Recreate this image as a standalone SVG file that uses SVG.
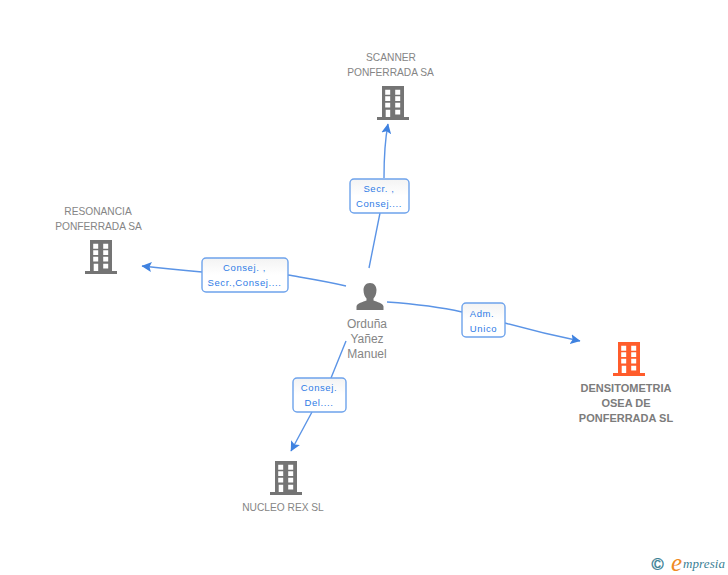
<svg xmlns="http://www.w3.org/2000/svg" width="728" height="575" viewBox="0 0 728 575">
<style>
.n{font:10.200px "Liberation Sans",Arial,sans-serif;fill:#858585;text-anchor:middle}
.b{font-weight:bold;font-size:11px;fill:#7c7c7c}
.p{font-size:12px}
.l{font:9.500px "Liberation Sans",Arial,sans-serif;fill:#2f7be6;text-anchor:middle;letter-spacing:.6px}
.c{fill:none;stroke:#5b94e6;stroke-width:1.4}
.r{fill:#fff;stroke:#6ea3ec;stroke-width:1.4}
</style>
<defs>
<linearGradient id="g" x1="0" y1="0" x2="0" y2="1"><stop offset="0" stop-color="#f3f3f3"/><stop offset=".5" stop-color="#fff"/></linearGradient>
<marker id="a" markerWidth="11" markerHeight="10" refX="9.5" refY="5" orient="auto" markerUnits="userSpaceOnUse"><path d="M0 0L10 5L0 10L2 5Z" fill="#3f82e0"/></marker>
<symbol id="t" width="32" height="35" overflow="visible"><path fill-rule="evenodd" fill="currentColor" d="M0 0H22V31H27V34H-5V31H0ZM3.200 3.700V8.700H8.200V3.700ZM13.200 3.700V8.700H18.200V3.700ZM3.200 10.200V15H8.200V10.200ZM13.200 10.200V15H18.200V10.200ZM3.200 16.800V21.500H8.200V16.800ZM13.200 16.800V21.500H18.200V16.800ZM3.700 23.700V31H8.200V23.700ZM13.200 23.700V28.500H18.200V23.700Z"/></symbol>
</defs>
<g id="connectors">
<path class="c" marker-end="url(#a)" d="M369 268L380 213M384 178C384 160 385 140 388 124"/>
<path class="c" marker-end="url(#a)" d="M346 286C325 281 305 278 288 275M202 272C180 270 160 268 142 266"/>
<path class="c" marker-end="url(#a)" d="M387 302C415 304 440 307 462 312M505 323C530 330 555 336 580 341"/>
<path class="c" marker-end="url(#a)" d="M346 341L331 378M312 412L291 451"/>
</g>
<g id="n-scanner" color="#747474"><use href="#t" x="382" y="86"/><text class="n" x="391" y="61">SCANNER</text><text class="n" x="390.500" y="76">PONFERRADA SA</text></g>
<g id="n-resonancia" color="#747474"><use href="#t" x="90" y="240"/><text class="n" x="98" y="215">RESONANCIA</text><text class="n" x="98.500" y="230">PONFERRADA SA</text></g>
<g id="n-nucleo" color="#747474"><use href="#t" x="275" y="461"/><text class="n" x="283" y="511">NUCLEO REX SL</text></g>
<g id="n-densitometria" color="#ff5c2b"><use href="#t" x="618" y="342"/><text class="n b" x="626" y="392">DENSITOMETRIA</text><text class="n b" x="626" y="407">OSEA DE</text><text class="n b" x="626" y="422">PONFERRADA SL</text></g>
<g id="n-person"><path fill="#747474" d="M370 283C374.500 283 376.500 286.500 376.500 290C376.500 294 375 297 373.500 298.500V300.500C377 302 383 303 383.500 306.500V310H356.500V306.500C357 303 363 302 366.500 300.500V298.500C365 297 363.500 294 363.500 290C363.500 286.500 365.500 283 370 283Z"/><text class="n p" x="367" y="328">Orduña</text><text class="n p" x="367" y="343">Yañez</text><text class="n p" x="367" y="358">Manuel</text></g>
<g id="e-secr"><rect class="r" style="fill:url(#g)" x="350" y="179" width="59" height="34" rx="4"/><text class="l" x="379" y="192">Secr. ,</text><text class="l" x="379" y="207">Consej....</text></g>
<g id="e-consej"><rect class="r" style="fill:url(#g)" x="202" y="258" width="86" height="34" rx="4"/><text class="l" x="244.500" y="271">Consej. ,</text><text class="l" x="244.500" y="286">Secr.,Consej....</text></g>
<g id="e-adm"><rect class="r" style="fill:url(#g)" x="462" y="303" width="43" height="34" rx="4"/><text class="l" x="482" y="317">Adm.</text><text class="l" x="483.500" y="332">Unico</text></g>
<g id="e-del"><rect class="r" style="fill:url(#g)" x="293" y="378" width="53" height="34" rx="4"/><text class="l" x="319" y="391">Consej.</text><text class="l" x="319" y="406">Del....</text></g>
<g id="logo"><text x="657.500" y="569.500" font-family="Liberation Sans,sans-serif" font-size="16.500" fill="#3b7f95" stroke="#3b7f95" stroke-width=".4" text-anchor="middle">©</text><text x="671" y="571" font-family="Liberation Serif,serif" font-style="italic" font-size="25" fill="#f08a24">e</text><text x="683" y="568" font-family="Liberation Serif,serif" font-style="italic" font-size="13" fill="#3b7f95" textLength="42">mpresia</text></g>
</svg>
